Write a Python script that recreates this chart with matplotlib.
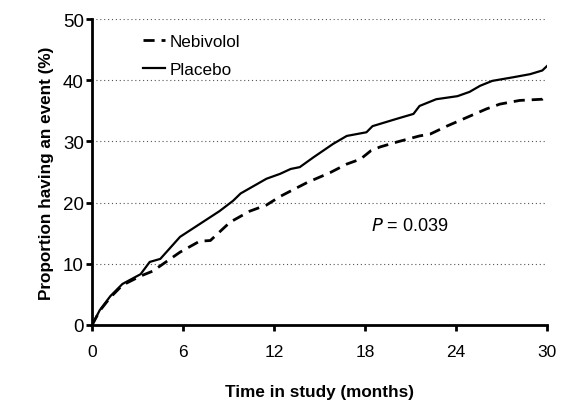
import matplotlib.pyplot as plt

plt.rcParams['font.family'] = ['Liberation Sans', 'DejaVu Sans']

# cumulative event curves (months, %)
placebo_t = [0, 0.5, 1.2, 2.0, 3.2, 3.8, 4.5, 5.8, 7.1, 8.4, 9.3, 9.8, 11.5, 12.4, 13.1,
             13.7, 14.6, 15.9, 16.8, 18.1, 18.5, 20.1, 21.2, 21.6, 22.7, 24.1, 24.9,
             25.6, 26.4, 27.8, 28.9, 29.7, 30]
placebo_p = [0, 2.4, 4.7, 6.7, 8.3, 10.3, 10.8, 14.4, 16.5, 18.6, 20.3, 21.5, 23.9, 24.7, 25.5,
             25.8, 27.4, 29.6, 30.9, 31.5, 32.5, 33.7, 34.5, 35.8, 36.9, 37.4, 38.1,
             39.1, 39.9, 40.5, 41.0, 41.6, 42.3]

nebivolol_t = [0, 0.5, 1.2, 2.0, 3.2, 4.0, 5.8, 7.1, 7.8, 9.1, 10.4, 11.5, 12.4, 13.1,
               14.2, 15.7, 16.8, 17.7, 18.4, 19.0, 20.1, 21.6, 22.3, 23.4, 24.7, 26.0,
               26.9, 28.2, 29.7, 30]
nebivolol_p = [0, 2.3, 4.5, 6.5, 8.0, 8.8, 11.9, 13.7, 13.8, 16.8, 18.6, 19.6, 21.0, 21.9,
               23.3, 24.9, 26.3, 27.1, 28.5, 29.1, 29.9, 30.9, 31.2, 32.5, 33.9, 35.3,
               36.1, 36.7, 36.9, 37.4]

x_ticks = [0, 6, 12, 18, 24, 30]
y_ticks = [0, 10, 20, 30, 40, 50]

fig = plt.figure(figsize=(5.83, 4.10), dpi=100)
ax = fig.add_axes([0.158, 0.205, 0.78, 0.746])

for y in y_ticks[1:]:
    ax.axhline(y, color='#555555', lw=0.8, ls=(0, (1, 2.5)), zorder=0)

ax.plot(nebivolol_t, nebivolol_p, color='black', lw=2, ls=(0, (4, 2.5)), label='Nebivolol')
ax.plot(placebo_t, placebo_p, color='black', lw=1.6, label='Placebo')

ax.set_xlim(0, 30)
ax.set_ylim(0, 50)
ax.set_xticks(x_ticks)
ax.set_yticks(y_ticks)
ax.tick_params(labelsize=12.5, width=2, length=4, direction='out')
ax.tick_params(axis='x', pad=10)
ax.tick_params(axis='y', pad=2, labelsize=13.5)
for side in ['top', 'right']:
    ax.spines[side].set_visible(False)
for side in ['left', 'bottom']:
    ax.spines[side].set_linewidth(2)

ax.set_xlabel('Time in study (months)', fontsize=12.3, fontweight='bold', labelpad=18)
ax.set_ylabel('Proportion having an event (%)', fontsize=12.3, fontweight='bold', labelpad=6)

ax.legend(loc='upper left', bbox_to_anchor=(0.077, 1.0), frameon=False, fontsize=12.3,
          handlelength=1.3, handletextpad=0.3, labelspacing=0.75)

ax.text(20.95, 16.2, r'$\it{P}$ = 0.039', fontsize=13, ha='center', va='center')

fig.savefig('out.png', dpi=100)
